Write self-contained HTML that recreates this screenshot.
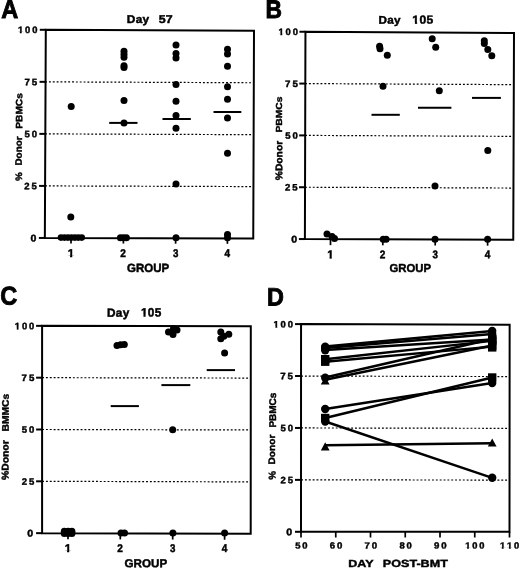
<!DOCTYPE html>
<html><head><meta charset="utf-8"><style>
html,body{margin:0;padding:0;background:#fff;overflow:hidden;}
svg{display:block;will-change:transform;}
text{font-family:"Liberation Sans", sans-serif;font-weight:bold;fill:#000;}
</style></head><body>
<svg width="520" height="569" viewBox="0 0 520 569">
<rect width="520" height="569" fill="#fff"/>
<line x1="45.09" y1="185.91" x2="252.44" y2="186.59" stroke="#000" stroke-width="1.2" stroke-dasharray="1.92,1.93"/>
<line x1="45.09" y1="133.87" x2="252.62" y2="134.68" stroke="#000" stroke-width="1.2" stroke-dasharray="1.92,1.93"/>
<line x1="45.09" y1="81.84" x2="252.81" y2="82.76" stroke="#000" stroke-width="1.2" stroke-dasharray="1.92,1.93"/>
<polygon points="45.80,29.80 254.00,30.85 253.25,238.50 44.85,237.95" fill="none" stroke="#000" stroke-width="2" stroke-linejoin="miter"/>
<line x1="38.85" y1="237.95" x2="44.85" y2="237.95" stroke="#000" stroke-width="2"/>
<line x1="39.09" y1="185.91" x2="45.09" y2="185.91" stroke="#000" stroke-width="2"/>
<line x1="39.33" y1="133.88" x2="45.33" y2="133.88" stroke="#000" stroke-width="2"/>
<line x1="39.56" y1="81.84" x2="45.56" y2="81.84" stroke="#000" stroke-width="2"/>
<line x1="39.80" y1="29.80" x2="45.80" y2="29.80" stroke="#000" stroke-width="2"/>
<line x1="71.00" y1="238.02" x2="71.00" y2="243.42" stroke="#000" stroke-width="1.7"/>
<line x1="123.40" y1="238.16" x2="123.40" y2="243.56" stroke="#000" stroke-width="1.7"/>
<line x1="175.60" y1="238.30" x2="175.60" y2="243.70" stroke="#000" stroke-width="1.7"/>
<line x1="227.40" y1="238.43" x2="227.40" y2="243.83" stroke="#000" stroke-width="1.7"/>
<circle cx="61.00" cy="237.60" r="3.3"/>
<circle cx="64.45" cy="237.60" r="3.3"/>
<circle cx="67.90" cy="237.60" r="3.3"/>
<circle cx="71.35" cy="237.60" r="3.3"/>
<circle cx="74.80" cy="237.60" r="3.3"/>
<circle cx="78.25" cy="237.60" r="3.3"/>
<circle cx="81.70" cy="237.60" r="3.3"/>
<circle cx="70.80" cy="217.00" r="3.5"/>
<circle cx="71.20" cy="106.60" r="3.5"/>
<circle cx="124.00" cy="51.20" r="3.5"/>
<circle cx="124.00" cy="54.20" r="3.5"/>
<circle cx="124.00" cy="57.20" r="3.5"/>
<circle cx="124.00" cy="65.80" r="3.5"/>
<circle cx="124.00" cy="67.50" r="3.5"/>
<circle cx="124.00" cy="100.40" r="3.5"/>
<circle cx="124.00" cy="122.90" r="3.5"/>
<circle cx="120.40" cy="237.70" r="3.5"/>
<circle cx="123.40" cy="237.70" r="3.5"/>
<circle cx="126.40" cy="237.70" r="3.5"/>
<circle cx="176.00" cy="45.00" r="3.5"/>
<circle cx="176.00" cy="53.50" r="3.5"/>
<circle cx="176.00" cy="57.90" r="3.5"/>
<circle cx="176.00" cy="84.40" r="3.5"/>
<circle cx="176.00" cy="101.20" r="3.5"/>
<circle cx="176.00" cy="115.40" r="3.5"/>
<circle cx="176.00" cy="128.30" r="3.5"/>
<circle cx="176.00" cy="184.00" r="3.5"/>
<circle cx="176.00" cy="237.80" r="3.5"/>
<circle cx="227.50" cy="49.20" r="3.5"/>
<circle cx="227.50" cy="54.00" r="3.5"/>
<circle cx="227.50" cy="66.20" r="3.5"/>
<circle cx="227.50" cy="86.70" r="3.5"/>
<circle cx="227.50" cy="99.20" r="3.5"/>
<circle cx="227.50" cy="118.00" r="3.5"/>
<circle cx="227.50" cy="153.30" r="3.5"/>
<circle cx="227.50" cy="234.50" r="3.5"/>
<circle cx="227.50" cy="237.80" r="3.5"/>
<line x1="109.20" y1="122.90" x2="137.50" y2="122.90" stroke="#000" stroke-width="2"/>
<line x1="162.50" y1="119.00" x2="190.80" y2="119.00" stroke="#000" stroke-width="2"/>
<line x1="213.50" y1="112.00" x2="241.30" y2="112.00" stroke="#000" stroke-width="2"/>
<line x1="305.09" y1="187.23" x2="512.44" y2="188.05" stroke="#000" stroke-width="1.2" stroke-dasharray="1.92,1.93"/>
<line x1="305.09" y1="135.40" x2="512.62" y2="136.35" stroke="#000" stroke-width="1.2" stroke-dasharray="1.92,1.93"/>
<line x1="305.09" y1="83.57" x2="512.81" y2="84.65" stroke="#000" stroke-width="1.2" stroke-dasharray="1.92,1.93"/>
<polygon points="305.45,31.75 514.00,32.95 513.25,239.75 304.90,239.05" fill="none" stroke="#000" stroke-width="2" stroke-linejoin="miter"/>
<line x1="298.90" y1="239.05" x2="304.90" y2="239.05" stroke="#000" stroke-width="2"/>
<line x1="299.04" y1="187.23" x2="305.04" y2="187.23" stroke="#000" stroke-width="2"/>
<line x1="299.17" y1="135.40" x2="305.17" y2="135.40" stroke="#000" stroke-width="2"/>
<line x1="299.31" y1="83.57" x2="305.31" y2="83.57" stroke="#000" stroke-width="2"/>
<line x1="299.45" y1="31.75" x2="305.45" y2="31.75" stroke="#000" stroke-width="2"/>
<line x1="330.50" y1="239.14" x2="330.50" y2="245.14" stroke="#000" stroke-width="1.7"/>
<line x1="382.80" y1="239.31" x2="382.80" y2="245.31" stroke="#000" stroke-width="1.7"/>
<line x1="435.20" y1="239.49" x2="435.20" y2="245.49" stroke="#000" stroke-width="1.7"/>
<line x1="487.60" y1="239.66" x2="487.60" y2="245.66" stroke="#000" stroke-width="1.7"/>
<circle cx="327.00" cy="234.00" r="3.5"/>
<circle cx="332.00" cy="236.50" r="3.5"/>
<circle cx="334.50" cy="238.50" r="3.5"/>
<circle cx="379.60" cy="46.30" r="3.5"/>
<circle cx="380.00" cy="48.80" r="3.5"/>
<circle cx="387.30" cy="55.20" r="3.5"/>
<circle cx="383.00" cy="86.20" r="3.5"/>
<circle cx="383.20" cy="239.30" r="3.5"/>
<circle cx="386.10" cy="239.30" r="3.5"/>
<circle cx="432.20" cy="38.70" r="3.5"/>
<circle cx="435.70" cy="47.20" r="3.5"/>
<circle cx="439.30" cy="90.70" r="3.5"/>
<circle cx="435.00" cy="186.00" r="3.5"/>
<circle cx="435.00" cy="239.30" r="3.5"/>
<circle cx="484.30" cy="40.80" r="3.5"/>
<circle cx="484.30" cy="43.60" r="3.5"/>
<circle cx="487.80" cy="49.60" r="3.5"/>
<circle cx="491.80" cy="55.70" r="3.5"/>
<circle cx="487.80" cy="150.60" r="3.5"/>
<circle cx="487.60" cy="239.30" r="3.5"/>
<line x1="371.50" y1="114.80" x2="399.80" y2="114.80" stroke="#000" stroke-width="2"/>
<line x1="418.00" y1="107.80" x2="451.40" y2="107.80" stroke="#000" stroke-width="2"/>
<line x1="472.00" y1="97.90" x2="500.90" y2="97.90" stroke="#000" stroke-width="2"/>
<line x1="42.09" y1="481.32" x2="249.72" y2="481.89" stroke="#000" stroke-width="1.2" stroke-dasharray="1.92,1.93"/>
<line x1="42.09" y1="429.50" x2="249.75" y2="429.97" stroke="#000" stroke-width="1.2" stroke-dasharray="1.92,1.93"/>
<line x1="42.09" y1="377.67" x2="249.78" y2="378.06" stroke="#000" stroke-width="1.2" stroke-dasharray="1.92,1.93"/>
<polygon points="42.10,325.85 250.80,326.15 250.70,533.80 42.10,533.15" fill="none" stroke="#000" stroke-width="2" stroke-linejoin="miter"/>
<line x1="36.10" y1="533.15" x2="42.10" y2="533.15" stroke="#000" stroke-width="2"/>
<line x1="36.10" y1="481.32" x2="42.10" y2="481.32" stroke="#000" stroke-width="2"/>
<line x1="36.10" y1="429.50" x2="42.10" y2="429.50" stroke="#000" stroke-width="2"/>
<line x1="36.10" y1="377.68" x2="42.10" y2="377.68" stroke="#000" stroke-width="2"/>
<line x1="36.10" y1="325.85" x2="42.10" y2="325.85" stroke="#000" stroke-width="2"/>
<line x1="68.00" y1="533.23" x2="68.00" y2="539.23" stroke="#000" stroke-width="1.7"/>
<line x1="120.30" y1="533.39" x2="120.30" y2="539.39" stroke="#000" stroke-width="1.7"/>
<line x1="172.70" y1="533.56" x2="172.70" y2="539.56" stroke="#000" stroke-width="1.7"/>
<line x1="224.60" y1="533.72" x2="224.60" y2="539.72" stroke="#000" stroke-width="1.7"/>
<circle cx="64.30" cy="531.30" r="3.5"/>
<circle cx="68.10" cy="531.20" r="3.5"/>
<circle cx="71.90" cy="531.30" r="3.5"/>
<circle cx="64.30" cy="533.60" r="3.5"/>
<circle cx="68.10" cy="533.60" r="3.5"/>
<circle cx="71.90" cy="533.60" r="3.5"/>
<circle cx="117.00" cy="345.60" r="3.5"/>
<circle cx="120.60" cy="344.80" r="3.5"/>
<circle cx="124.30" cy="344.50" r="3.5"/>
<circle cx="121.00" cy="533.00" r="3.5"/>
<circle cx="124.50" cy="533.00" r="3.5"/>
<circle cx="168.50" cy="331.90" r="3.5"/>
<circle cx="173.00" cy="334.60" r="3.5"/>
<circle cx="177.00" cy="330.00" r="3.5"/>
<circle cx="173.50" cy="328.50" r="3.5"/>
<circle cx="172.70" cy="429.80" r="3.5"/>
<circle cx="172.90" cy="533.00" r="3.5"/>
<circle cx="220.80" cy="331.90" r="3.5"/>
<circle cx="228.80" cy="334.20" r="3.5"/>
<circle cx="220.80" cy="338.80" r="3.5"/>
<circle cx="223.80" cy="336.20" r="3.5"/>
<circle cx="224.60" cy="353.10" r="3.5"/>
<circle cx="224.60" cy="533.00" r="3.5"/>
<line x1="110.70" y1="406.10" x2="138.90" y2="406.10" stroke="#000" stroke-width="2"/>
<line x1="161.40" y1="385.10" x2="190.30" y2="385.10" stroke="#000" stroke-width="2"/>
<line x1="206.70" y1="370.10" x2="235.00" y2="370.10" stroke="#000" stroke-width="2"/>
<line x1="301.09" y1="479.88" x2="508.54" y2="480.06" stroke="#000" stroke-width="1.2" stroke-dasharray="1.92,1.93"/>
<line x1="301.09" y1="427.95" x2="508.57" y2="428.32" stroke="#000" stroke-width="1.2" stroke-dasharray="1.92,1.93"/>
<line x1="301.09" y1="376.03" x2="508.61" y2="376.59" stroke="#000" stroke-width="1.2" stroke-dasharray="1.92,1.93"/>
<polygon points="301.05,324.10 509.65,324.85 509.50,531.80 301.00,531.80" fill="none" stroke="#000" stroke-width="2" stroke-linejoin="miter"/>
<line x1="295.00" y1="531.80" x2="301.00" y2="531.80" stroke="#000" stroke-width="2"/>
<line x1="295.01" y1="479.88" x2="301.01" y2="479.88" stroke="#000" stroke-width="2"/>
<line x1="295.02" y1="427.95" x2="301.02" y2="427.95" stroke="#000" stroke-width="2"/>
<line x1="295.04" y1="376.02" x2="301.04" y2="376.02" stroke="#000" stroke-width="2"/>
<line x1="295.05" y1="324.10" x2="301.05" y2="324.10" stroke="#000" stroke-width="2"/>
<line x1="301.00" y1="531.80" x2="301.00" y2="537.50" stroke="#000" stroke-width="1.7"/>
<line x1="335.75" y1="531.80" x2="335.75" y2="537.50" stroke="#000" stroke-width="1.7"/>
<line x1="370.50" y1="531.80" x2="370.50" y2="537.50" stroke="#000" stroke-width="1.7"/>
<line x1="405.25" y1="531.80" x2="405.25" y2="537.50" stroke="#000" stroke-width="1.7"/>
<line x1="440.00" y1="531.80" x2="440.00" y2="537.50" stroke="#000" stroke-width="1.7"/>
<line x1="474.75" y1="531.80" x2="474.75" y2="537.50" stroke="#000" stroke-width="1.7"/>
<line x1="509.50" y1="531.80" x2="509.50" y2="537.50" stroke="#000" stroke-width="1.7"/>
<line x1="325.20" y1="359.20" x2="492.20" y2="340.90" stroke="#000" stroke-width="2.4"/>
<line x1="325.20" y1="361.70" x2="492.20" y2="346.60" stroke="#000" stroke-width="2.4"/>
<line x1="325.20" y1="377.50" x2="492.20" y2="339.00" stroke="#000" stroke-width="2.4"/>
<line x1="325.20" y1="379.80" x2="492.20" y2="345.50" stroke="#000" stroke-width="2.4"/>
<line x1="325.20" y1="350.00" x2="492.20" y2="339.50" stroke="#000" stroke-width="2.4"/>
<line x1="325.20" y1="348.00" x2="492.20" y2="334.00" stroke="#000" stroke-width="2.4"/>
<line x1="325.20" y1="346.50" x2="492.20" y2="331.00" stroke="#000" stroke-width="2.4"/>
<line x1="325.20" y1="409.00" x2="492.20" y2="383.00" stroke="#000" stroke-width="2.4"/>
<line x1="325.20" y1="418.00" x2="492.20" y2="377.50" stroke="#000" stroke-width="2.4"/>
<line x1="325.20" y1="421.50" x2="492.20" y2="477.80" stroke="#000" stroke-width="2.4"/>
<line x1="325.20" y1="445.30" x2="492.20" y2="443.30" stroke="#000" stroke-width="2.4"/>
<rect x="321.00" y="355.00" width="8.4" height="8.4"/>
<rect x="488.00" y="336.70" width="8.4" height="8.4"/>
<rect x="321.00" y="357.50" width="8.4" height="8.4"/>
<rect x="488.00" y="343.20" width="8.4" height="8.4"/>
<circle cx="325.20" cy="377.70" r="4.2"/>
<rect x="488.00" y="334.80" width="8.4" height="8.4"/>
<polygon points="325.20,376.41 320.80,384.59 329.60,384.59"/>
<rect x="488.00" y="341.30" width="8.4" height="8.4"/>
<circle cx="325.20" cy="350.20" r="4.2"/>
<rect x="488.00" y="335.30" width="8.4" height="8.4"/>
<circle cx="325.20" cy="348.30" r="4.2"/>
<circle cx="492.20" cy="334.00" r="4.2"/>
<circle cx="325.20" cy="346.80" r="4.2"/>
<circle cx="492.20" cy="331.00" r="4.2"/>
<circle cx="325.20" cy="409.00" r="4.2"/>
<circle cx="492.20" cy="383.00" r="4.2"/>
<rect x="321.00" y="413.80" width="8.4" height="8.4"/>
<rect x="488.00" y="373.30" width="8.4" height="8.4"/>
<circle cx="325.20" cy="421.50" r="4.2"/>
<circle cx="492.20" cy="477.80" r="4.2"/>
<polygon points="325.20,442.31 320.80,450.49 329.60,450.49"/>
<polygon points="492.20,438.41 487.80,446.59 496.60,446.59"/>
<g transform="matrix(0.9067,0,0,0.9760,-180.133,-177.088)"><g transform="translate(200,200) rotate(0.05)"><text x="0" y="0" font-size="26" stroke="#000" stroke-width="0.9">A</text></g></g>
<g transform="matrix(0.8776,0,0,0.9760,89.981,-177.088)"><g transform="translate(200,200) rotate(0.05)"><text x="0" y="0" font-size="26" stroke="#000" stroke-width="0.9">B</text></g></g>
<g transform="matrix(0.9070,0,0,0.9870,-181.189,107.057)"><g transform="translate(200,200) rotate(0.05)"><text x="0" y="0" font-size="26" stroke="#000" stroke-width="0.9">C</text></g></g>
<g transform="matrix(0.9000,0,0,0.9707,86.975,111.481)"><g transform="translate(200,200) rotate(0.05)"><text x="0" y="0" font-size="26" stroke="#000" stroke-width="0.9">D</text></g></g>
<g transform="matrix(1.0476,0,0,1.0000,-82.748,-177.000)"><g transform="translate(200,200) rotate(0.05)"><text x="0" y="0" font-size="11.3" letter-spacing="0.3" stroke="#000" stroke-width="0.45">Day</text></g></g>
<g transform="matrix(1.0939,0,0,1.0061,-60.149,-178.164)"><g transform="translate(200,200) rotate(0.05)"><text x="0" y="0" font-size="11.3" letter-spacing="0.3" stroke="#000" stroke-width="0.45">57</text></g></g>
<g transform="matrix(1.0381,0,0,0.9857,170.762,-173.507)"><g transform="translate(200,200) rotate(0.05)"><text x="0" y="0" font-size="11.3" letter-spacing="0.3" stroke="#000" stroke-width="0.45">Day</text></g></g>
<g transform="matrix(1.0667,0,0,1.0424,199.033,-184.645)"><g transform="translate(200,200) rotate(0.05)"><text x="0.000 6.585 13.169" y="0" font-size="11.3" stroke="#000" stroke-width="0.45">105</text><rect x="-0.163" y="-1.678" width="2.506" height="2.753" fill="#fff"/><rect x="4.483" y="-1.678" width="2.362" height="2.753" fill="#fff"/></g></g>
<g transform="matrix(1.0429,0,0,1.0476,-101.593,107.157)"><g transform="translate(200,200) rotate(0.05)"><text x="0" y="0" font-size="11.3" letter-spacing="0.3" stroke="#000" stroke-width="0.45">Day</text></g></g>
<g transform="matrix(1.0453,0,0,1.0667,-68.089,103.200)"><g transform="translate(200,200) rotate(0.05)"><text x="0.000 6.585 13.169" y="0" font-size="11.3" stroke="#000" stroke-width="0.45">105</text><rect x="-0.163" y="-1.678" width="2.506" height="2.753" fill="#fff"/><rect x="4.483" y="-1.678" width="2.362" height="2.753" fill="#fff"/></g></g>
<g transform="matrix(1.0800,0,0,0.9931,-185.420,42.781)"><g transform="translate(200,200) rotate(0.05)"><text x="0" y="0" font-size="9.8" letter-spacing="2.0" stroke="#000" stroke-width="0.45">0</text></g></g>
<g transform="matrix(0.9725,0,0,0.9517,-170.322,-1.120)"><g transform="translate(200,200) rotate(0.05)"><text x="0" y="0" font-size="9.8" letter-spacing="2.0" stroke="#000" stroke-width="0.45">25</text></g></g>
<g transform="matrix(0.9725,0,0,0.9517,-170.085,-53.158)"><g transform="translate(200,200) rotate(0.05)"><text x="0" y="0" font-size="9.8" letter-spacing="2.0" stroke="#000" stroke-width="0.45">50</text></g></g>
<g transform="matrix(0.9920,0,0,0.9517,-173.985,-105.195)"><g transform="translate(200,200) rotate(0.05)"><text x="0" y="0" font-size="9.8" letter-spacing="2.0" stroke="#000" stroke-width="0.45">75</text></g></g>
<g transform="matrix(0.9570,0,0,0.9517,-173.471,-157.233)"><g transform="translate(200,200) rotate(0.05)"><text x="0.000 7.450 14.901" y="0" font-size="9.8" stroke="#000" stroke-width="0.45">100</text><rect x="-0.258" y="-1.525" width="2.250" height="2.600" fill="#fff"/><rect x="3.927" y="-1.525" width="2.126" height="2.600" fill="#fff"/></g></g>
<g transform="matrix(1.0800,0,0,0.9931,75.130,43.881)"><g transform="translate(200,200) rotate(0.05)"><text x="0" y="0" font-size="9.8" letter-spacing="2.0" stroke="#000" stroke-width="0.45">0</text></g></g>
<g transform="matrix(0.9725,0,0,0.9517,90.528,0.192)"><g transform="translate(200,200) rotate(0.05)"><text x="0" y="0" font-size="9.8" letter-spacing="2.0" stroke="#000" stroke-width="0.45">25</text></g></g>
<g transform="matrix(0.9725,0,0,0.9517,90.665,-51.633)"><g transform="translate(200,200) rotate(0.05)"><text x="0" y="0" font-size="9.8" letter-spacing="2.0" stroke="#000" stroke-width="0.45">50</text></g></g>
<g transform="matrix(0.9920,0,0,0.9517,86.665,-103.458)"><g transform="translate(200,200) rotate(0.05)"><text x="0" y="0" font-size="9.8" letter-spacing="2.0" stroke="#000" stroke-width="0.45">75</text></g></g>
<g transform="matrix(0.9570,0,0,0.9517,87.079,-155.283)"><g transform="translate(200,200) rotate(0.05)"><text x="0.000 7.450 14.901" y="0" font-size="9.8" stroke="#000" stroke-width="0.45">100</text><rect x="-0.258" y="-1.525" width="2.250" height="2.600" fill="#fff"/><rect x="3.927" y="-1.525" width="2.126" height="2.600" fill="#fff"/></g></g>
<g transform="matrix(1.0800,0,0,0.9931,-188.770,337.981)"><g transform="translate(200,200) rotate(0.05)"><text x="0" y="0" font-size="9.8" letter-spacing="2.0" stroke="#000" stroke-width="0.45">0</text></g></g>
<g transform="matrix(0.9725,0,0,0.9517,-172.710,294.292)"><g transform="translate(200,200) rotate(0.05)"><text x="0" y="0" font-size="9.8" letter-spacing="2.0" stroke="#000" stroke-width="0.45">25</text></g></g>
<g transform="matrix(0.9725,0,0,0.9517,-172.710,242.467)"><g transform="translate(200,200) rotate(0.05)"><text x="0" y="0" font-size="9.8" letter-spacing="2.0" stroke="#000" stroke-width="0.45">50</text></g></g>
<g transform="matrix(0.9920,0,0,0.9517,-176.848,190.642)"><g transform="translate(200,200) rotate(0.05)"><text x="0" y="0" font-size="9.8" letter-spacing="2.0" stroke="#000" stroke-width="0.45">75</text></g></g>
<g transform="matrix(0.9570,0,0,0.9517,-176.571,138.817)"><g transform="translate(200,200) rotate(0.05)"><text x="0.000 7.450 14.901" y="0" font-size="9.8" stroke="#000" stroke-width="0.45">100</text><rect x="-0.258" y="-1.525" width="2.250" height="2.600" fill="#fff"/><rect x="3.927" y="-1.525" width="2.126" height="2.600" fill="#fff"/></g></g>
<g transform="matrix(1.0800,0,0,0.9931,70.230,336.631)"><g transform="translate(200,200) rotate(0.05)"><text x="0" y="0" font-size="9.8" letter-spacing="2.0" stroke="#000" stroke-width="0.45">0</text></g></g>
<g transform="matrix(0.9725,0,0,0.9517,85.903,292.842)"><g transform="translate(200,200) rotate(0.05)"><text x="0" y="0" font-size="9.8" letter-spacing="2.0" stroke="#000" stroke-width="0.45">25</text></g></g>
<g transform="matrix(0.9725,0,0,0.9517,85.915,240.917)"><g transform="translate(200,200) rotate(0.05)"><text x="0" y="0" font-size="9.8" letter-spacing="2.0" stroke="#000" stroke-width="0.45">50</text></g></g>
<g transform="matrix(0.9920,0,0,0.9517,81.790,188.992)"><g transform="translate(200,200) rotate(0.05)"><text x="0" y="0" font-size="9.8" letter-spacing="2.0" stroke="#000" stroke-width="0.45">75</text></g></g>
<g transform="matrix(0.9570,0,0,0.9517,82.079,137.067)"><g transform="translate(200,200) rotate(0.05)"><text x="0.000 7.450 14.901" y="0" font-size="9.8" stroke="#000" stroke-width="0.45">100</text><rect x="-0.258" y="-1.525" width="2.250" height="2.600" fill="#fff"/><rect x="3.927" y="-1.525" width="2.126" height="2.600" fill="#fff"/></g></g>
<g transform="matrix(1.0400,0,0,1.0125,-140.270,54.547)"><g transform="translate(200,200) rotate(0.05)"><text x="0.000" y="0" font-size="11" stroke="#000" stroke-width="0.45">1</text><rect x="-0.182" y="-1.648" width="2.455" height="2.723" fill="#fff"/><rect x="4.372" y="-1.648" width="2.315" height="2.723" fill="#fff"/></g></g>
<g transform="matrix(0.9217,0,0,1.0125,-64.028,54.547)"><g transform="translate(200,200) rotate(0.05)"><text x="0" y="0" font-size="11" stroke="#000" stroke-width="0.45">2</text></g></g>
<g transform="matrix(0.8833,0,0,1.0125,-3.717,54.547)"><g transform="translate(200,200) rotate(0.05)"><text x="0" y="0" font-size="11" stroke="#000" stroke-width="0.45">3</text></g></g>
<g transform="matrix(0.9120,0,0,1.0125,42.150,54.547)"><g transform="translate(200,200) rotate(0.05)"><text x="0" y="0" font-size="11" stroke="#000" stroke-width="0.45">4</text></g></g>
<g transform="matrix(1.0400,0,0,1.0125,119.230,55.847)"><g transform="translate(200,200) rotate(0.05)"><text x="0.000" y="0" font-size="11" stroke="#000" stroke-width="0.45">1</text><rect x="-0.182" y="-1.648" width="2.455" height="2.723" fill="#fff"/><rect x="4.372" y="-1.648" width="2.315" height="2.723" fill="#fff"/></g></g>
<g transform="matrix(0.9217,0,0,1.0125,195.372,55.847)"><g transform="translate(200,200) rotate(0.05)"><text x="0" y="0" font-size="11" stroke="#000" stroke-width="0.45">2</text></g></g>
<g transform="matrix(0.8833,0,0,1.0125,255.883,55.847)"><g transform="translate(200,200) rotate(0.05)"><text x="0" y="0" font-size="11" stroke="#000" stroke-width="0.45">3</text></g></g>
<g transform="matrix(0.9120,0,0,1.0125,302.350,55.847)"><g transform="translate(200,200) rotate(0.05)"><text x="0" y="0" font-size="11" stroke="#000" stroke-width="0.45">4</text></g></g>
<g transform="matrix(1.0400,0,0,1.0125,-143.270,349.547)"><g transform="translate(200,200) rotate(0.05)"><text x="0.000" y="0" font-size="11" stroke="#000" stroke-width="0.45">1</text><rect x="-0.182" y="-1.648" width="2.455" height="2.723" fill="#fff"/><rect x="4.372" y="-1.648" width="2.315" height="2.723" fill="#fff"/></g></g>
<g transform="matrix(0.9217,0,0,1.0125,-67.128,349.547)"><g transform="translate(200,200) rotate(0.05)"><text x="0" y="0" font-size="11" stroke="#000" stroke-width="0.45">2</text></g></g>
<g transform="matrix(0.8833,0,0,1.0125,-6.617,349.547)"><g transform="translate(200,200) rotate(0.05)"><text x="0" y="0" font-size="11" stroke="#000" stroke-width="0.45">3</text></g></g>
<g transform="matrix(0.9120,0,0,1.0125,39.350,349.547)"><g transform="translate(200,200) rotate(0.05)"><text x="0" y="0" font-size="11" stroke="#000" stroke-width="0.45">4</text></g></g>
<g transform="matrix(0.9647,0,0,0.9103,102.209,366.503)"><g transform="translate(200,200) rotate(0.05)"><text x="0" y="0" font-size="9.8" letter-spacing="2.0" stroke="#000" stroke-width="0.45">50</text></g></g>
<g transform="matrix(0.9840,0,0,0.9103,132.854,366.503)"><g transform="translate(200,200) rotate(0.05)"><text x="0" y="0" font-size="9.8" letter-spacing="2.0" stroke="#000" stroke-width="0.45">60</text></g></g>
<g transform="matrix(0.9840,0,0,0.9103,167.604,366.503)"><g transform="translate(200,200) rotate(0.05)"><text x="0" y="0" font-size="9.8" letter-spacing="2.0" stroke="#000" stroke-width="0.45">70</text></g></g>
<g transform="matrix(0.9647,0,0,0.9103,206.459,366.503)"><g transform="translate(200,200) rotate(0.05)"><text x="0" y="0" font-size="9.8" letter-spacing="2.0" stroke="#000" stroke-width="0.45">80</text></g></g>
<g transform="matrix(0.9840,0,0,0.9103,237.104,366.503)"><g transform="translate(200,200) rotate(0.05)"><text x="0" y="0" font-size="9.8" letter-spacing="2.0" stroke="#000" stroke-width="0.45">90</text></g></g>
<g transform="matrix(0.9519,0,0,0.9103,274.794,366.503)"><g transform="translate(200,200) rotate(0.05)"><text x="0.000 7.450 14.901" y="0" font-size="9.8" stroke="#000" stroke-width="0.45">100</text><rect x="-0.258" y="-1.525" width="2.250" height="2.600" fill="#fff"/><rect x="3.927" y="-1.525" width="2.126" height="2.600" fill="#fff"/></g></g>
<g transform="matrix(0.9519,0,0,0.9103,309.544,366.503)"><g transform="translate(200,200) rotate(0.05)"><text x="0.000 7.450 14.901" y="0" font-size="9.8" stroke="#000" stroke-width="0.45">110</text><rect x="-0.258" y="-1.525" width="2.250" height="2.600" fill="#fff"/><rect x="3.927" y="-1.525" width="2.126" height="2.600" fill="#fff"/><rect x="7.193" y="-1.525" width="2.250" height="2.600" fill="#fff"/><rect x="11.377" y="-1.525" width="2.126" height="2.600" fill="#fff"/></g></g>
<g transform="matrix(1.0012,0,0,1.0353,-73.290,64.982)"><g transform="translate(200,200) rotate(0.05)"><text x="0" y="0" font-size="11.5" stroke="#000" stroke-width="0.45">GROUP</text></g></g>
<g transform="matrix(0.9844,0,0,1.0000,192.568,72.050)"><g transform="translate(200,200) rotate(0.05)"><text x="0" y="0" font-size="11.5" stroke="#000" stroke-width="0.45">GROUP</text></g></g>
<g transform="matrix(1.0108,0,0,1.0000,-77.608,367.250)"><g transform="translate(200,200) rotate(0.05)"><text x="0" y="0" font-size="11.5" stroke="#000" stroke-width="0.45">GROUP</text></g></g>
<g transform="matrix(1.0901,0,0,0.8970,130.233,387.682)"><g transform="translate(200,200) rotate(0.05)"><text x="0" y="0" font-size="11.5" stroke="#000" stroke-width="0.45">DAY</text></g></g>
<g transform="matrix(1.0966,0,0,0.9059,163.530,385.897)"><g transform="translate(200,200) rotate(0.05)"><text x="0" y="0" font-size="11.5" stroke="#000" stroke-width="0.45">POST-BMT</text></g></g>
<g transform="matrix(0.9200,0,0,1.0161,-161.830,-74.504)"><g transform="translate(200,200) rotate(-89.95)"><text x="0" y="0" font-size="10" stroke="#000" stroke-width="0.45">PBMCs</text></g></g>
<g transform="matrix(0.9379,0,0,0.9862,-165.721,-31.748)"><g transform="translate(200,200) rotate(-89.95)"><text x="0" y="0" font-size="10" stroke="#000" stroke-width="0.45">Donor</text></g></g>
<g transform="matrix(0.9333,0,0,0.9829,-164.600,-15.571)"><g transform="translate(200,200) rotate(-89.95)"><text x="0" y="0" font-size="10" stroke="#000" stroke-width="0.45">%</text></g></g>
<g transform="matrix(0.8800,0,0,1.0248,105.880,-72.451)"><g transform="translate(200,200) rotate(-89.95)"><text x="0" y="0" font-size="10" stroke="#000" stroke-width="0.45">PBMCs</text></g></g>
<g transform="matrix(0.9733,0,0,1.0286,87.590,-25.514)"><g transform="translate(200,200) rotate(-89.95)"><text x="0" y="0" font-size="10" stroke="#000" stroke-width="0.45">%Donor</text></g></g>
<g transform="matrix(0.9600,0,0,1.0306,-183.240,225.404)"><g transform="translate(200,200) rotate(-89.95)"><text x="0" y="0" font-size="10" stroke="#000" stroke-width="0.45">BMMCs</text></g></g>
<g transform="matrix(0.9733,0,0,1.0390,-186.110,272.208)"><g transform="translate(200,200) rotate(-89.95)"><text x="0" y="0" font-size="10" stroke="#000" stroke-width="0.45">%Donor</text></g></g>
<g transform="matrix(0.9733,0,0,0.9985,81.290,227.891)"><g transform="translate(200,200) rotate(-89.95)"><text x="0" y="0" font-size="10" stroke="#000" stroke-width="0.45">PBMCs</text></g></g>
<g transform="matrix(0.9517,0,0,1.0138,84.717,261.748)"><g transform="translate(200,200) rotate(-89.95)"><text x="0" y="0" font-size="10" stroke="#000" stroke-width="0.45">Donor</text></g></g>
<g transform="matrix(0.9733,0,0,0.9829,80.790,283.129)"><g transform="translate(200,200) rotate(-89.95)"><text x="0" y="0" font-size="10" stroke="#000" stroke-width="0.45">%</text></g></g>
</svg>
</body></html>
